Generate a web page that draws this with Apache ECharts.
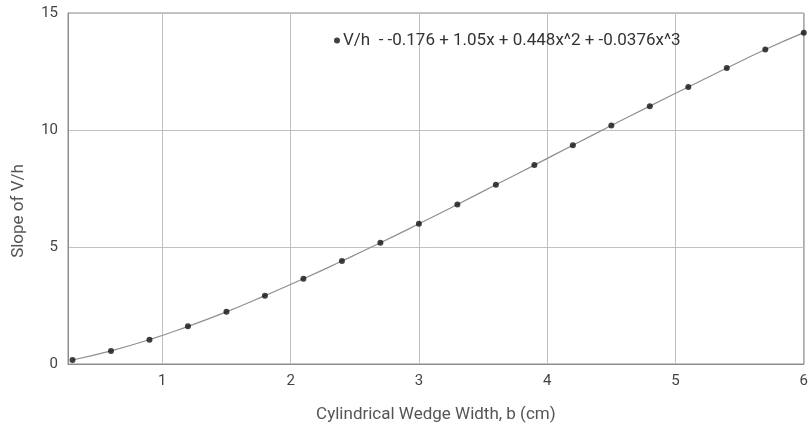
<!DOCTYPE html>
<html>
<head>
<meta charset="utf-8">
<script src="https://cdn.jsdelivr.net/npm/echarts@6/dist/echarts.min.js"></script>
<style>
html,body{margin:0;padding:0;background:#fff;}
#chart{width:811px;height:430px;}
</style>
</head>
<body>
<div id="chart"></div>
<script>
// Data
const widthB = [0.3, 0.6, 0.9, 1.2, 1.5, 1.8, 2.1, 2.4, 2.7, 3.0, 3.3, 3.6, 3.9, 4.2, 4.5, 4.8, 5.1, 5.4, 5.7, 6.0];
const slopeVh = [0.17, 0.56, 1.04, 1.61, 2.23, 2.92, 3.64, 4.40, 5.18, 5.99, 6.82, 7.66, 8.50, 9.35, 10.19, 11.02, 11.84, 12.65, 13.44, 14.16];
const yTicks = [0, 5, 10, 15];
const xTicks = [1, 2, 3, 4, 5, 6];
const legendLabel = 'V/h  - -0.176 + 1.05x + 0.448x^2 + -0.0376x^3';
const xTitle = 'Cylindrical Wedge Width, b (cm)';
const yTitle = 'Slope of V/h';

const points = widthB.map((x, i) => [x, slopeVh[i]]);
const FONT = 'Roboto';

const chart = echarts.init(document.getElementById('chart'), null, {renderer: 'canvas'});
chart.setOption({
  animation: false,
  backgroundColor: '#fff',
  grid: {left: 68, right: 4, top: 13, bottom: 66, show: true, borderColor: '#8c8c8c', borderWidth: 1},
  legend: {
    left: 329, top: 27,
    icon: 'circle', itemWidth: 6, itemHeight: 6, itemGap: 0,
    textStyle: {fontFamily: FONT, fontSize: 17, color: '#333', padding: [0, 0, 0, -2]},
    data: [legendLabel]
  },
  xAxis: {
    type: 'value', min: 0.265, max: 6,
    name: xTitle, nameLocation: 'middle', nameGap: 42,
    nameTextStyle: {fontFamily: FONT, fontSize: 17, color: '#555'},
    axisLine: {show: true, lineStyle: {color: '#8c8c8c'}},
    axisTick: {show: false},
    axisLabel: {
      fontFamily: FONT, fontSize: 15, color: '#444', margin: 10,
      showMinLabel: false,
      formatter: v => (xTicks.indexOf(Math.round(v * 1000) / 1000) >= 0 ? String(v) : '')
    },
    splitLine: {show: true, lineStyle: {color: '#c0c0c0', width: 1}}
  },
  yAxis: {
    type: 'value', min: yTicks[0], max: yTicks[yTicks.length - 1], interval: 5,
    axisLine: {show: true, lineStyle: {color: '#8c8c8c'}},
    axisTick: {show: false},
    axisLabel: {fontFamily: FONT, fontSize: 15, color: '#444', margin: 10},
    splitLine: {show: true, lineStyle: {color: '#c0c0c0', width: 1}}
  },
  graphic: [
    {type: 'text', rotation: Math.PI / 2, x: 19, y: 211,
     style: {text: yTitle, font: '17px ' + FONT, fill: '#555', textAlign: 'center', textVerticalAlign: 'middle'}}
  ],
  series: [
    {
      name: legendLabel + '_fit', type: 'line', data: points, smooth: true,
      showSymbol: false, symbol: 'none',
      lineStyle: {color: '#8f8f8f', width: 1.2}, z: 2, silent: true
    },
    {
      name: legendLabel, type: 'scatter', data: points,
      symbol: 'circle', symbolSize: 6,
      itemStyle: {color: '#111'}, z: 3
    }
  ]
});
</script>
</body>
</html>
